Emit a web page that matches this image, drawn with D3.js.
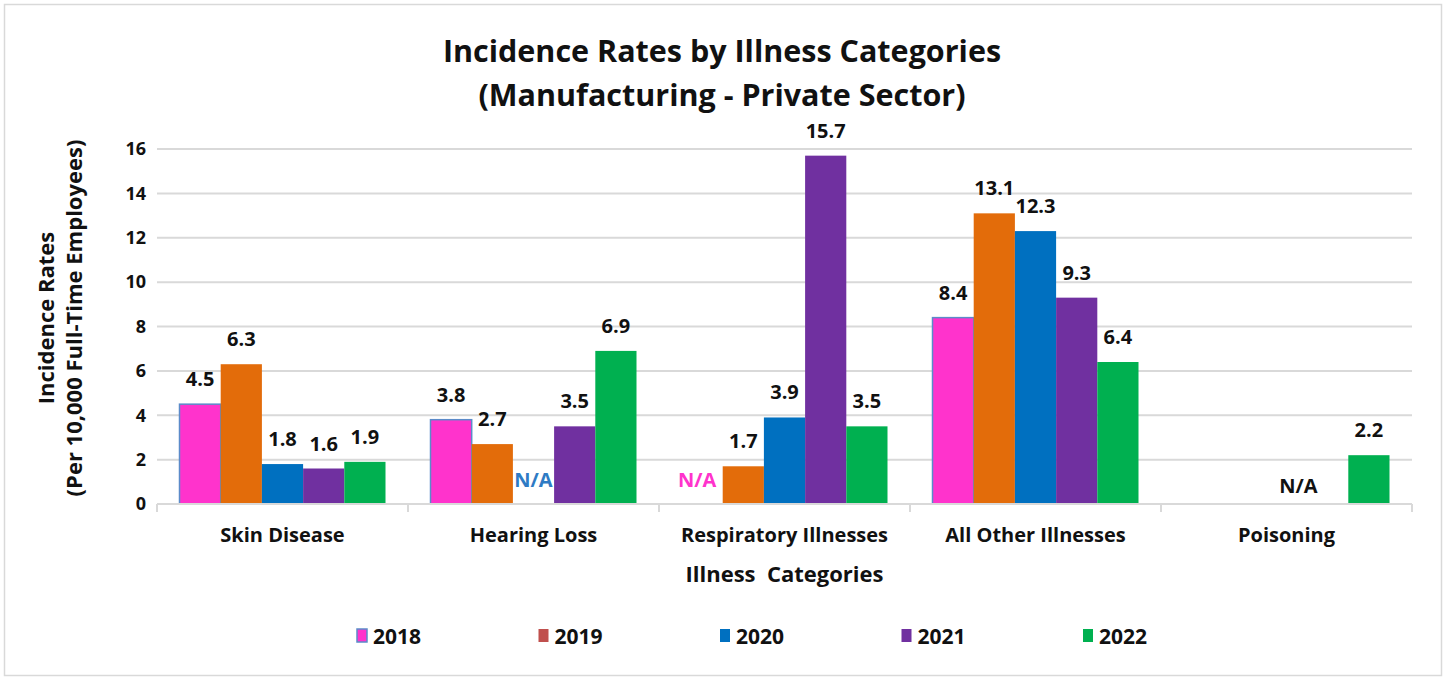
<!DOCTYPE html>
<html>
<head>
<meta charset="utf-8">
<script src="https://cdn.jsdelivr.net/npm/d3@7"></script>
<style>
  html, body { margin: 0; padding: 0; background: #fff; }
  svg { display: block; font-family: "Open Sans", Lato, sans-serif; }
</style>
</head>
<body>
<svg width="1445" height="680"></svg>
<script>
const categories = ['Skin Disease', 'Hearing Loss', 'Respiratory Illnesses', 'All Other Illnesses', 'Poisoning']
const years = ['2018', '2019', '2020', '2021', '2022']

// null = no data (shown as N/A)
const rates2018 = [4.5, 3.8, null, 8.4, null]
const rates2019 = [6.3, 2.7, 1.7, 13.1, null]
const rates2020 = [1.8, null, 3.9, 12.3, null]
const rates2021 = [1.6, 3.5, 15.7, 9.3, null]
const rates2022 = [1.9, 6.9, 3.5, 6.4, 2.2]

const yTicks = [0, 2, 4, 6, 8, 10, 12, 14, 16]

// N/A markers: category and the year slot they sit in
const naCategories = ['Hearing Loss', 'Respiratory Illnesses', 'Poisoning']
const naYears = ['2020', '2018', '2020']

const series = [rates2018, rates2019, rates2020, rates2021, rates2022]

const width = 1445
const height = 680
const margin = { top: 149, right: 33, bottom: 176, left: 157 }

const barColors = ['#FF33CC', '#E36C0A', '#0070C0', '#7030A0', '#00B050']
const legendColors = ['#FF33CC', '#C0504D', '#0070C0', '#7030A0', '#00B050']
const naColors = ['#2E7BC4', '#FF33CC', '#111']
const gridColor = '#d9d9d9'
const textColor = '#111'

const svg = d3.select('svg')

// outer frame
svg.append('rect')
  .attr('x', 4.5).attr('y', 4.5)
  .attr('width', 1437).attr('height', 671)
  .attr('fill', '#fff')
  .attr('stroke', gridColor)
  .attr('stroke-width', 1.5)

// scales
const x0 = d3.scaleBand()
  .domain(categories)
  .range([margin.left, width - margin.right])

const inner = 22.5
const x1 = d3.scaleBand()
  .domain(years)
  .range([inner, x0.bandwidth() - inner])

const y = d3.scaleLinear()
  .domain([0, 16])
  .range([height - margin.bottom, margin.top])

// gridlines
svg.append('g')
  .selectAll('line')
  .data(yTicks.filter(d => d > 0))
  .enter().append('line')
  .attr('x1', margin.left)
  .attr('x2', width - margin.right)
  .attr('y1', d => y(d))
  .attr('y2', d => y(d))
  .attr('stroke', gridColor)
  .attr('stroke-width', 2)

// y axis labels
const yAxis = d3.axisLeft(y)
  .tickValues(yTicks)
  .tickSize(0)
  .tickPadding(11)

const gy = svg.append('g')
  .attr('transform', `translate(${margin.left}, 0)`)
  .call(yAxis)
gy.select('.domain').remove()
gy.selectAll('text')
  .attr('font-size', 18)
  .attr('font-weight', 'bold')
  .attr('fill', textColor)
  .attr('font-family', '"Open Sans", Lato, sans-serif')

// bars
const rows = []
categories.forEach((c, i) => {
  years.forEach((yr, j) => {
    rows.push({ cat: c, year: yr, idx: j, value: series[j][i] })
  })
})
const valued = rows.filter(d => d.value !== null)

svg.append('g')
  .selectAll('rect')
  .data(valued)
  .enter().append('rect')
  .attr('x', d => x0(d.cat) + x1(d.year))
  .attr('y', d => y(d.value))
  .attr('width', x1.bandwidth())
  .attr('height', d => y(0) - y(d.value))
  .attr('fill', d => barColors[d.idx])
  .attr('stroke', d => d.idx === 0 ? '#5B8BC9' : 'none')
  .attr('stroke-width', 1.5)

// x axis line with category dividers
const baseY = y(0)
const gx = svg.append('g')
gx.append('line')
  .attr('x1', margin.left).attr('x2', width - margin.right)
  .attr('y1', baseY).attr('y2', baseY)
  .attr('stroke', gridColor).attr('stroke-width', 2)
gx.selectAll('.divider')
  .data(categories.concat(['end']))
  .enter().append('line')
  .attr('class', 'divider')
  .attr('x1', (d, i) => margin.left + i * x0.bandwidth())
  .attr('x2', (d, i) => margin.left + i * x0.bandwidth())
  .attr('y1', baseY)
  .attr('y2', baseY + 8)
  .attr('stroke', gridColor).attr('stroke-width', 2)

gx.selectAll('.cat')
  .data(categories)
  .enter().append('text')
  .attr('class', 'cat')
  .attr('x', d => x0(d) + x0.bandwidth() / 2)
  .attr('y', baseY + 38)
  .attr('text-anchor', 'middle')
  .attr('font-size', 20)
  .attr('font-weight', 'bold')
  .attr('fill', textColor)
  .text(d => d)

// value labels
svg.append('g')
  .selectAll('text')
  .data(valued)
  .enter().append('text')
  .attr('x', d => x0(d.cat) + x1(d.year) + x1.bandwidth() / 2)
  .attr('y', d => y(d.value) - 18)
  .attr('text-anchor', 'middle')
  .attr('font-size', 20)
  .attr('font-weight', 'bold')
  .attr('fill', textColor)
  .text(d => d3.format('.1f')(d.value))

// N/A labels
svg.append('g')
  .selectAll('text')
  .data(naCategories)
  .enter().append('text')
  .attr('x', (d, i) => {
    const cx = x0(d) + x1(naYears[i]) + x1.bandwidth() / 2
    if (i === 1) return cx - 5
    if (i === 2) return cx + 12
    return cx
  })
  .attr('y', (d, i) => i === 2 ? baseY - 11 : baseY - 17)
  .attr('text-anchor', 'middle')
  .attr('font-size', 20)
  .attr('font-weight', 'bold')
  .attr('fill', (d, i) => naColors[i])
  .text('N/A')

// title
const title = svg.append('text')
  .attr('x', 722)
  .attr('text-anchor', 'middle')
  .attr('font-size', 30.5)
  .attr('font-weight', 'bold')
  .attr('fill', textColor)
title.append('tspan').attr('x', 722).attr('y', 62).text('Incidence Rates by Illness Categories')
title.append('tspan').attr('x', 722).attr('y', 106).text('(Manufacturing - Private Sector)')

// axis titles
svg.append('text')
  .attr('x', (margin.left + width - margin.right) / 2)
  .attr('y', 582)
  .attr('text-anchor', 'middle')
  .attr('font-size', 22)
  .attr('font-weight', 'bold')
  .attr('fill', textColor)
  .style('white-space', 'pre')
  .text('Illness  Categories')

const yTitle = svg.append('text')
  .attr('transform', 'translate(0, 318) rotate(-90)')
  .attr('text-anchor', 'middle')
  .attr('font-size', 22)
  .attr('font-weight', 'bold')
  .attr('fill', textColor)
yTitle.append('tspan').attr('x', 0).attr('y', 54).text('Incidence Rates')
yTitle.append('tspan').attr('x', 0).attr('y', 82).text('(Per 10,000 Full-Time Employees)')

// legend
const legend = svg.append('g')
  .selectAll('g')
  .data(years)
  .enter().append('g')
  .attr('transform', (d, i) => `translate(${357 + i * 181.5}, 636)`)

legend.append('rect')
  .attr('x', 0).attr('y', -7)
  .attr('width', 10).attr('height', 13)
  .attr('fill', (d, i) => legendColors[i])
  .attr('stroke', (d, i) => i === 0 ? '#5B8BC9' : 'none')
  .attr('stroke-width', 1.5)

legend.append('text')
  .attr('x', 16)
  .attr('y', 8)
  .attr('font-size', 21)
  .attr('font-weight', 'bold')
  .attr('fill', textColor)
  .text(d => d)
</script>
</body>
</html>
